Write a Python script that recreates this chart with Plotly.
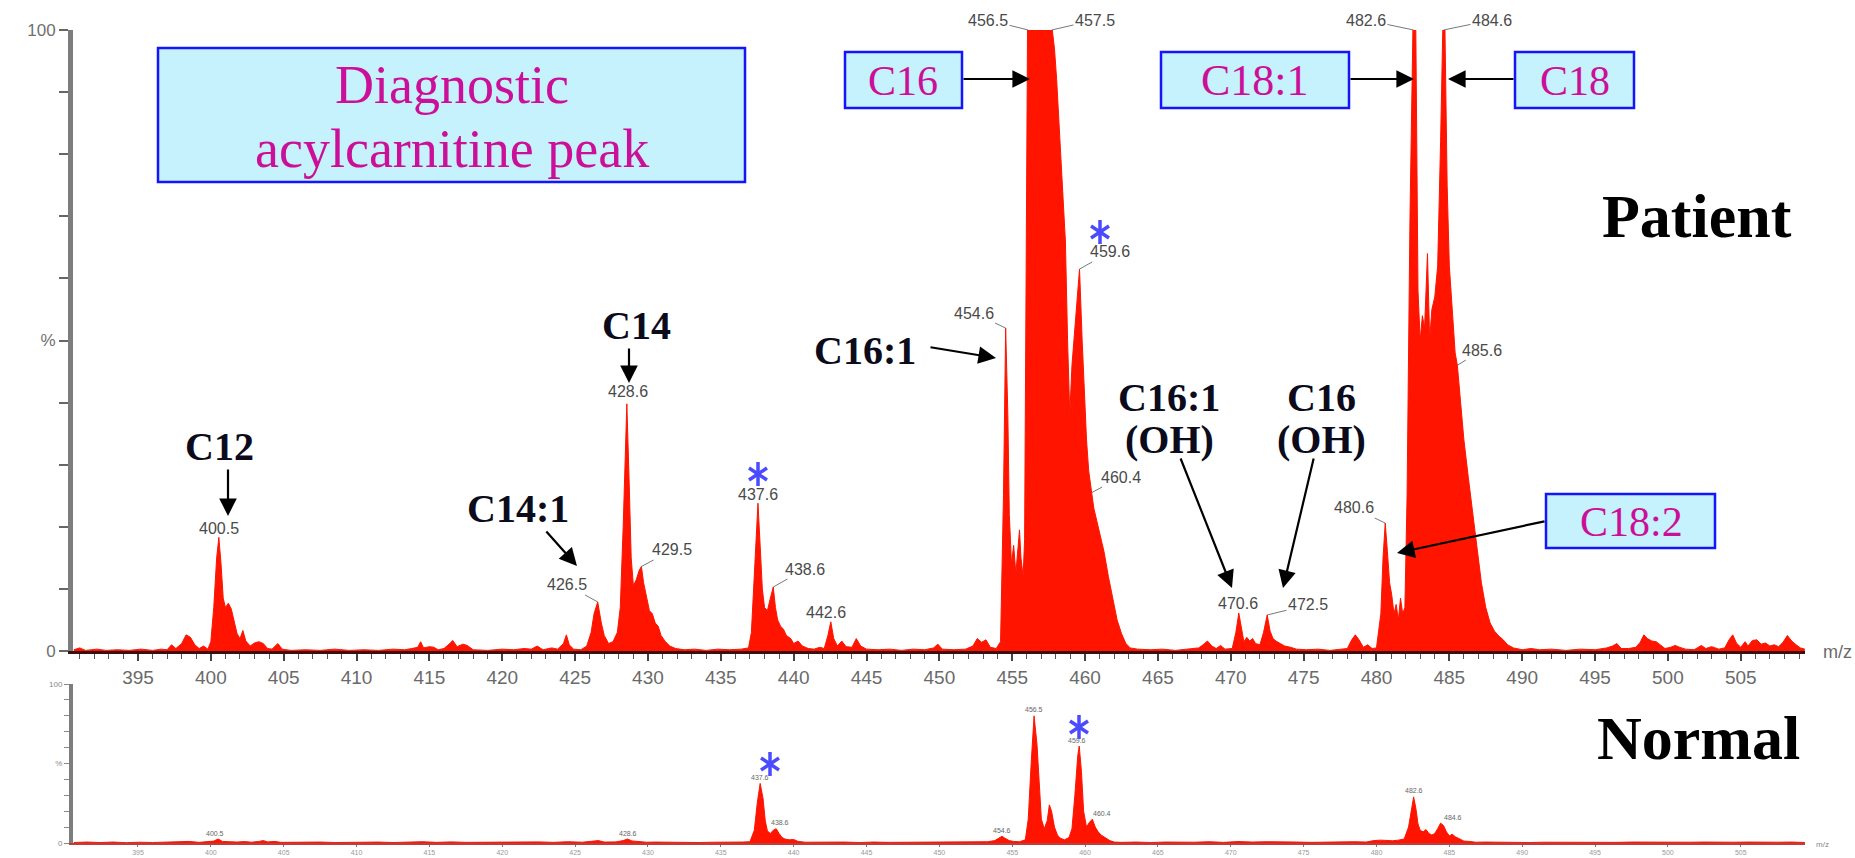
import plotly.graph_objects as go

W, H = 1855, 858

# ---------------- data: Patient spectrum (m/z, relative intensity %) ----------------
TOP_MZ = [390.6, 391.0, 391.4, 392.2, 392.8, 393.6, 394.4, 395.2, 396.0, 396.6, 397.0, 397.3, 397.6, 398.0,
          398.3, 398.6, 398.9, 399.2, 399.5, 399.8, 400.0, 400.2, 400.4, 400.55, 400.7, 400.85, 401.0, 401.2,
          401.4, 401.6, 401.8, 402.0, 402.2, 402.4, 402.7, 403.0, 403.3, 403.6, 403.9, 404.2, 404.6, 404.9,
          405.5, 406.5, 407.5, 408.5, 409.5, 410.5, 411.5, 412.5, 413.3, 413.8, 414.2, 414.4, 414.6, 415.0,
          415.3, 415.6, 416.0, 416.4, 416.6, 416.9, 417.3, 417.6, 418.0, 419.0, 420.0, 420.8, 421.5, 422.0,
          422.4, 422.8, 423.4, 423.8, 424.2, 424.4, 424.6, 424.9, 425.4, 425.8, 426.1, 426.3, 426.55, 426.8,
          427.0, 427.3, 427.6, 427.9, 428.1, 428.3, 428.55, 428.7, 428.85, 429.0, 429.2, 429.4, 429.55, 429.7,
          429.9, 430.1, 430.3, 430.5, 430.7, 430.9, 431.2, 431.5, 431.9, 432.5, 433.2, 434.0, 434.8, 435.6,
          436.4, 436.9, 437.1, 437.3, 437.55, 437.7, 437.85, 438.0, 438.2, 438.4, 438.6, 438.75, 438.9, 439.1,
          439.3, 439.5, 439.8, 440.0, 440.3, 440.6, 441.0, 441.4, 441.8, 442.1, 442.35, 442.55, 442.75, 443.0,
          443.3, 443.6, 444.0, 444.3, 444.6, 445.0, 445.8, 446.6, 447.4, 448.2, 449.0, 449.6, 449.9, 450.2,
          451.0, 451.8, 452.3, 452.6, 452.9, 453.2, 453.5, 453.9, 454.2, 454.4, 454.55, 454.7, 454.8, 454.95,
          455.1, 455.25, 455.4, 455.5, 455.6, 455.75, 455.85, 455.95, 456.05, 457.75, 457.9, 458.05, 458.2,
          458.35, 458.5, 458.65, 458.8, 458.95, 459.1, 459.3, 459.45, 459.62, 459.8, 459.95, 460.1, 460.25,
          460.45, 460.6, 460.8, 461.0, 461.3, 461.6, 461.9, 462.2, 462.5, 462.8, 463.1, 463.6, 464.5, 465.3,
          466.2, 467.0, 467.8, 468.1, 468.4, 468.7, 469.0, 469.3, 469.6, 470.1, 470.35, 470.55, 470.75, 470.9,
          471.1, 471.3, 471.5, 471.7, 472.0, 472.25, 472.5, 472.7, 472.9, 473.1, 473.4, 473.7, 474.1, 474.5,
          475.2, 476.0, 476.8, 477.5, 478.0, 478.3, 478.55, 478.8, 479.1, 479.4, 479.7, 480.0, 480.3, 480.45,
          480.6, 480.75, 480.9, 481.05, 481.2, 481.35, 481.5, 481.65, 481.8, 481.95, 482.1, 482.3, 482.5,
          482.7, 482.85, 483.0, 483.15, 483.3, 483.5, 483.65, 483.8, 484.0, 484.2, 484.4, 484.55, 484.7,
          484.85, 485.0, 485.2, 485.4, 485.55, 485.75, 486.0, 486.3, 486.6, 486.9, 487.2, 487.5, 487.8,
          488.1, 488.4, 488.7, 489.0, 489.4, 490.0, 490.6, 491.2, 492.0, 493.0, 494.0, 495.0, 495.8, 496.2,
          496.5, 496.8, 497.3, 497.8, 498.1, 498.35, 498.6, 498.9, 499.2, 499.5, 499.8, 500.2, 500.5, 500.8,
          501.2, 501.8, 502.3, 502.6, 503.0, 503.5, 503.9, 504.2, 504.45, 504.7, 505.0, 505.3, 505.5, 505.8,
          506.1, 506.4, 506.7, 507.0, 507.3, 507.6, 507.9, 508.2, 508.5, 508.8, 509.1, 509.4]
TOP_PCT = [0.2, 0.5, 0.1, 0.3, 0.1, 0.2, 0.1, 0.3, 0.1, 0.3, 0.2, 1.0, 0.4, 1.2,
           2.6, 2.2, 1.0, 0.4, 0.8, 0.3, 1.5, 7.0, 15.0, 18.3, 14.0, 8.5, 7.0, 7.7,
           6.8, 5.0, 2.8, 2.0, 3.3, 1.6, 0.8, 1.3, 1.5, 1.2, 0.4, 0.3, 1.2, 0.3,
           0.1, 0.2, 0.1, 0.3, 0.1, 0.2, 0.1, 0.3, 0.2, 0.4, 0.6, 1.5, 0.5, 0.7,
           0.6, 0.2, 0.4, 1.2, 1.7, 0.7, 1.1, 0.9, 0.2, 0.1, 0.3, 0.2, 0.4, 0.3,
           0.8, 0.2, 0.5, 0.3, 1.2, 2.6, 1.0, 0.3, 0.2, 0.8, 3.0, 6.0, 7.9, 4.5,
           2.5, 1.2, 1.5, 3.0, 7.0, 20.0, 39.8, 28.0, 15.0, 10.5, 11.5, 13.0, 13.6, 11.0,
           8.5, 6.5, 6.0, 4.5, 4.0, 2.5, 1.5, 0.8, 0.4, 0.2, 0.3, 0.1, 0.3, 0.2,
           0.3, 0.5, 3.0, 12.0, 23.8, 17.0, 10.0, 7.0, 6.5, 8.5, 10.3, 7.0, 5.0, 4.0,
           3.5, 2.5, 2.0, 1.2, 1.6, 0.8, 0.4, 0.3, 0.6, 0.4, 2.5, 4.7, 2.0, 0.8,
           1.6, 0.7, 0.6, 2.0, 0.8, 0.3, 0.2, 0.3, 0.1, 0.3, 0.2, 0.5, 1.1, 0.3,
           0.2, 0.3, 0.8, 2.0, 1.4, 1.8, 0.6, 0.4, 1.5, 25.0, 52.0, 38.0, 22.0, 14.0,
           17.0, 12.5, 16.0, 19.5, 15.0, 12.0, 18.0, 71.0, 100, 100, 97, 92, 86,
           80, 73, 66, 50, 38, 46, 52, 56, 61.5, 50, 41, 34, 29,
           25.5, 23, 21, 19, 16, 12, 8.5, 5.0, 2.8, 1.2, 0.5, 0.3, 0.2, 0.3,
           0.1, 0.3, 0.5, 1.0, 1.6, 0.8, 0.4, 0.9, 0.3, 0.4, 3.0, 6.1, 3.2, 1.5,
           2.2, 1.6, 2.0, 1.2, 1.0, 3.0, 5.8, 3.2, 2.0, 1.6, 1.2, 0.8, 0.6, 0.3,
           0.2, 0.3, 0.1, 0.3, 0.4, 1.8, 2.6, 1.8, 0.6, 1.0, 0.4, 0.5, 6.0, 15.0,
           20.6, 16.0, 11.0, 9.0, 6.0, 7.5, 5.0, 8.5, 6.0, 7.0, 25.0, 70.0, 100,
           100, 58, 50, 54, 52, 64, 50, 55, 57, 62, 82, 100, 100,
           75, 62, 54, 48, 46, 40, 34, 28, 22, 16, 11, 7, 4.5,
           3.2, 2.4, 1.8, 1.0, 0.5, 0.2, 0.4, 0.2, 0.3, 0.1, 0.3, 0.2, 0.5, 0.8,
           1.2, 0.4, 0.4, 0.6, 1.4, 2.6, 2.0, 1.6, 1.5, 0.9, 0.4, 0.6, 0.9, 0.6,
           0.3, 0.2, 0.9, 0.4, 0.7, 0.3, 0.5, 1.8, 2.6, 1.3, 0.6, 1.5, 0.8, 1.7,
           1.8, 1.1, 1.3, 0.8, 1.0, 0.7, 1.4, 2.5, 1.6, 1.0, 0.5, 0.3]

# ---------------- data: Normal spectrum ----------------
NORM_MZ = [390.6, 391.5, 392.4, 393.3, 394.2, 395.1, 396.0, 397.0, 397.8, 398.5, 399.2, 399.8, 400.2, 400.5,
           400.8, 401.3, 401.8, 402.3, 402.8, 403.3, 403.6, 403.9, 404.4, 404.8, 405.5, 406.5, 407.5, 408.5,
           409.5, 410.5, 411.5, 412.5, 413.5, 414.5, 415.5, 416.5, 417.5, 418.5, 419.5, 420.5, 421.5, 422.5,
           423.5, 424.5, 425.5, 426.3, 426.6, 427.0, 427.8, 428.3, 428.6, 428.9, 429.4, 429.9, 430.5, 431.5,
           432.5, 433.5, 434.5, 435.5, 436.5, 437.0, 437.3, 437.5, 437.7, 437.9, 438.05, 438.2, 438.4, 438.6,
           438.8, 439.0, 439.2, 439.4, 439.7, 440.0, 440.3, 440.8, 441.5, 442.5, 443.5, 444.5, 445.5, 446.5,
           447.5, 448.5, 449.5, 450.5, 451.5, 452.5, 453.3, 453.8, 454.1, 454.3, 454.5, 454.8, 455.1, 455.5,
           455.9, 456.1, 456.3, 456.5, 456.7, 456.85, 457.0, 457.2, 457.4, 457.55, 457.7, 457.9, 458.1, 458.3,
           458.6, 458.9, 459.1, 459.3, 459.5, 459.6, 459.75, 459.9, 460.1, 460.3, 460.5, 460.7, 460.9, 461.1,
           461.4, 461.7, 462.0, 462.5, 463.5, 464.5, 465.5, 466.5, 467.5, 468.5, 469.5, 470.5, 471.5, 472.5,
           473.5, 474.5, 475.5, 476.5, 477.5, 478.5, 479.3, 479.8, 480.3, 480.7, 481.1, 481.5, 481.9, 482.2,
           482.4, 482.55, 482.7, 482.85, 483.0, 483.2, 483.4, 483.6, 483.8, 484.0, 484.2, 484.4, 484.6, 484.8,
           485.0, 485.2, 485.4, 485.7, 486.0, 486.4, 486.8, 487.5, 488.5, 489.5, 490.5, 491.5, 492.5, 493.5,
           494.5, 495.5, 496.5, 497.5, 498.5, 499.5, 500.5, 501.5, 502.5, 503.5, 504.5, 505.5, 506.5, 507.5,
           508.5, 509.4]
NORM_PCT = [0.3, 0.6, 0.3, 0.6, 0.2, 0.5, 0.3, 0.6, 0.4, 1.0, 0.4, 0.8, 1.2, 2.5,
            1.0, 0.8, 0.6, 0.9, 0.5, 1.0, 1.5, 0.7, 1.0, 0.4, 0.5, 0.3, 0.6, 0.3,
            0.5, 0.4, 0.6, 0.3, 0.5, 0.8, 0.4, 0.7, 0.4, 0.5, 0.3, 0.6, 0.4, 0.7,
            0.4, 0.8, 0.5, 1.0, 1.5, 0.6, 0.7, 1.5, 2.5, 1.3, 0.9, 0.5, 0.6, 0.4,
            0.6, 0.3, 0.5, 0.4, 0.6, 0.8, 8.0, 25.0, 37.5, 28.0, 14.0, 7.5, 6.0, 8.0,
            9.0, 6.0, 3.5, 2.5, 2.0, 2.2, 1.0, 0.5, 0.6, 0.4, 0.6, 0.3, 0.6, 0.4,
            0.5, 0.3, 0.6, 0.4, 0.6, 0.5, 0.8, 1.5, 3.0, 4.2, 3.0, 1.5, 1.0, 0.8,
            2.0, 15.0, 50.0, 80.0, 62.0, 35.0, 15.0, 9.0, 14.0, 24.0, 20.0, 10.0, 5.0, 3.0,
            2.0, 3.5, 9.0, 30.0, 55.0, 61.0, 45.0, 20.0, 10.0, 13.0, 15.0, 10.0, 7.0, 5.0,
            3.0, 1.5, 0.6, 0.4, 0.6, 0.3, 0.6, 0.4, 0.5, 0.8, 0.4, 0.9, 0.6, 0.8,
            0.5, 0.6, 0.4, 0.6, 0.5, 0.8, 0.6, 1.5, 1.8, 1.5, 1.4, 1.8, 2.5, 10.0,
            22.0, 29.0, 22.0, 12.0, 8.0, 7.0, 8.5, 6.0, 5.0, 6.0, 9.0, 12.5, 11.0, 7.0,
            4.5, 5.5, 4.0, 2.5, 1.2, 1.0, 0.5, 0.6, 0.4, 0.6, 0.3, 0.5, 0.4, 0.6,
            0.3, 0.5, 0.4, 0.6, 0.5, 0.6, 0.4, 0.5, 0.6, 0.4, 0.5, 0.6, 0.4, 0.5,
            0.6, 0.3]

X_TICKS = list(range(395, 506, 5))
X_TICK_LABELS = [str(v) for v in X_TICKS]
Y_TICKS = list(range(0, 101, 10))
Y_TICK_LABELS = ["0", "", "", "", "", "%", "", "", "", "", "100"]

# peak labels: text, m/z, intensity
TOP_LABEL_TEXT = ["400.5", "426.5", "428.6", "429.5", "437.6", "438.6", "442.6", "454.6", "456.5",
                  "457.5", "459.6", "460.4", "470.6", "472.5", "480.6", "482.6", "484.6", "485.6"]
TOP_LABEL_MZ = [400.55, 426.55, 428.55, 429.55, 437.55, 438.6, 442.55, 454.55, 456.1,
                457.7, 459.62, 460.45, 470.55, 472.5, 480.6, 482.55, 484.6, 485.55]
TOP_LABEL_PCT = [18.3, 7.9, 39.8, 13.6, 23.8, 10.3, 4.7, 52.0, 100,
                 100, 61.5, 25.5, 6.1, 5.8, 20.6, 100, 100, 46]
NORM_LABEL_TEXT = ["400.5", "428.6", "437.6", "438.6", "454.6", "456.5", "459.6", "460.4", "482.6", "484.6"]
NORM_LABEL_MZ = [400.5, 428.6, 437.7, 438.8, 454.3, 456.5, 459.6, 460.5, 482.55, 484.4]
NORM_LABEL_PCT = [2.5, 2.5, 37.5, 9.0, 4.2, 80.0, 61.0, 15.0, 29.0, 12.5]

# ---------------- geometry (pixels) ----------------
X0_PX, X1_PX = 73, 1805
XR = [390.54, 509.41]
TOP_Y0, TOP_Y1 = 651, 30
BOT_Y0, BOT_Y1 = 843, 684


def px(x):
    return x / W


def py(y):
    return 1 - y / H


def xpx(mz):
    return X0_PX + (mz - XR[0]) / (XR[1] - XR[0]) * (X1_PX - X0_PX)


def mz_at(x):
    return XR[0] + (x - X0_PX) / (X1_PX - X0_PX) * (XR[1] - XR[0])


def ytop(p):
    return TOP_Y0 - p / 100 * (TOP_Y0 - TOP_Y1)


def ybot(p):
    return BOT_Y0 - p / 100 * (BOT_Y0 - BOT_Y1)


def pct_top(y):
    return (TOP_Y0 - y) / (TOP_Y0 - TOP_Y1) * 100


def pct_bot(y):
    return (BOT_Y0 - y) / (BOT_Y0 - BOT_Y1) * 100


RED = "#ff1400"
SERIF = "Liberation Serif"
SANS = "Liberation Sans"
MAGENTA = "#cc0f99"
BOX_FILL = "#c5f2fd"
BOX_LINE = "#1414ff"

fig = go.Figure()
fig.add_trace(go.Scatter(x=TOP_MZ, y=TOP_PCT, mode="lines", fill="tozeroy", fillcolor=RED,
                         line=dict(color=RED, width=1), xaxis="x", yaxis="y", hoverinfo="skip",
                         showlegend=False))
fig.add_trace(go.Scatter(x=NORM_MZ, y=NORM_PCT, mode="lines", fill="tozeroy", fillcolor=RED,
                         line=dict(color=RED, width=1), xaxis="x2", yaxis="y2", hoverinfo="skip",
                         showlegend=False))

# blue asterisks (six arms = y-up + y-down)
ast_top = [(758, 474), (1100, 232)]
ast_bot = [(770, 764), (1079, 727)]
for sym in ["y-up-open", "y-down-open"]:
    fig.add_trace(go.Scatter(x=[mz_at(a[0]) for a in ast_top], y=[pct_top(a[1]) for a in ast_top],
                             mode="markers", xaxis="x", yaxis="y", hoverinfo="skip", showlegend=False,
                             cliponaxis=False,
                             marker=dict(symbol=sym, size=15, color="#4a4aff",
                                         line=dict(color="#4a4aff", width=3.5))))
    fig.add_trace(go.Scatter(x=[mz_at(a[0]) for a in ast_bot], y=[pct_bot(a[1]) for a in ast_bot],
                             mode="markers", xaxis="x2", yaxis="y2", hoverinfo="skip", showlegend=False,
                             cliponaxis=False,
                             marker=dict(symbol=sym, size=15, color="#4a4aff",
                                         line=dict(color="#4a4aff", width=3.5))))

ann = []
shapes = []


def text(x, y, s, size, color, family, xanchor="center", yanchor="middle"):
    ann.append(dict(x=px(x), y=py(y), xref="paper", yref="paper", text=s, showarrow=False,
                    xanchor=xanchor, yanchor=yanchor, font=dict(size=size, color=color, family=family)))


def arrow(tx, ty, hx, hy):
    ann.append(dict(x=px(hx), y=py(hy), xref="paper", yref="paper", text="", showarrow=True,
                    ax=tx - hx, ay=ty - hy, axref="pixel", ayref="pixel", arrowhead=2, arrowsize=1.6,
                    arrowwidth=2.2, arrowcolor="#000000", standoff=0))


def box(x0, y0, x1, y1):
    shapes.append(dict(type="rect", xref="paper", yref="paper", x0=px(x0), x1=px(x1), y0=py(y1), y1=py(y0),
                       fillcolor=BOX_FILL, line=dict(color=BOX_LINE, width=2.5), layer="above"))


# Top peak labels (text position in px, leader line flag)
TOP_LABEL_POS = [(219, 528, 0), (567, 585, 1), (628, 392, 0), (672, 550, 1), (758, 495, 0), (805, 569, 1),
                 (826, 613, 0), (974, 313, 1), (988, 20, 1), (1095, 20, 1), (1110, 252, 1), (1121, 477, 1),
                 (1238, 603, 0), (1308, 605, 1), (1354, 508, 1), (1366, 20, 1), (1492, 20, 1), (1482, 350, 1)]
for s, mz, p, (tx, ty, lead) in zip(TOP_LABEL_TEXT, TOP_LABEL_MZ, TOP_LABEL_PCT, TOP_LABEL_POS):
    ann.append(dict(x=mz, y=p, xref="x", yref="y", text=s, showarrow=True, axref="pixel", ayref="pixel",
                    ax=tx - xpx(mz), ay=ty - ytop(p), arrowhead=0, arrowwidth=0.8, standoff=0,
                    arrowcolor="#555555" if lead else "rgba(0,0,0,0)",
                    font=dict(size=16, color="#4a4a4a", family=SANS)))

# Normal-panel peak labels, placed just above each peak
NORM_LABEL_DX = [-3, 0, 0, 4, 0, 0, -2, 10, 0, 12]
for s, mz, p, dx in zip(NORM_LABEL_TEXT, NORM_LABEL_MZ, NORM_LABEL_PCT, NORM_LABEL_DX):
    text(xpx(mz) + dx, ybot(p) - 6, s, 7, "#666666", SANS)

# boxes with magenta labels
box(158, 48, 745, 182)
box(845, 52, 962, 108)
box(1161, 52, 1349, 108)
box(1515, 52, 1634, 108)
box(1546, 494, 1715, 548)
text(452, 85, "Diagnostic", 54, MAGENTA, SERIF)
text(452, 149, "acylcarnitine peak", 54, MAGENTA, SERIF)
text(903, 81, "C16", 42, MAGENTA, SERIF)
text(1255, 81, "C18:1", 44, MAGENTA, SERIF)
text(1575, 81, "C18", 42, MAGENTA, SERIF)
text(1631, 522, "C18:2", 42, MAGENTA, SERIF)

# black labels
BLK = "#0b0b1c"
text(219, 447, "<b>C12</b>", 40, BLK, SERIF)
text(636, 325, "<b>C14</b>", 40, BLK, SERIF)
text(518, 508, "<b>C14:1</b>", 40, BLK, SERIF)
text(865, 350, "<b>C16:1</b>", 40, BLK, SERIF)
text(1169, 398, "<b>C16:1</b>", 40, BLK, SERIF)
text(1169, 440, "<b>(OH)</b>", 40, BLK, SERIF)
text(1321, 398, "<b>C16</b>", 40, BLK, SERIF)
text(1321, 440, "<b>(OH)</b>", 40, BLK, SERIF)
text(1697, 216, "<b>Patient</b>", 62, "#000000", SERIF)
text(1698, 738, "<b>Normal</b>", 62, "#000000", SERIF)

# arrows
arrow(228, 468, 228, 516)
arrow(629, 347, 629, 383)
arrow(545, 530, 577, 566)
arrow(929, 347, 996, 358)
arrow(1180, 457, 1232, 588)
arrow(1314, 457, 1283, 588)
arrow(962, 79, 1030, 79)
arrow(1349, 79, 1414, 79)
arrow(1515, 79, 1448, 79)
arrow(1546, 521, 1397, 553)

# m/z axis titles
text(1837, 652, "m/z", 18, "#6a6a6a", SANS)
text(1822, 844, "m/z", 8, "#888888", SANS)

fig.update_layout(
    width=W, height=H, margin=dict(l=0, r=0, t=0, b=0, autoexpand=False),
    paper_bgcolor="white", plot_bgcolor="rgba(0,0,0,0)", showlegend=False,
    annotations=ann, shapes=shapes,
    xaxis=dict(domain=[px(X0_PX), px(X1_PX)], range=XR, anchor="y", showgrid=False, zeroline=False,
               automargin=False,
               showline=True, linecolor="#3c0e0e", linewidth=3, ticks="outside", ticklen=7, tickwidth=1.5,
               tickcolor="#444444", tickmode="array", tickvals=X_TICKS, ticktext=X_TICK_LABELS,
               tickfont=dict(size=19, color="#6a6a6a", family=SANS),
               minor=dict(tickmode="linear", tick0=0, dtick=1, ticks="outside", ticklen=5,
                          tickcolor="#555555", tickwidth=1.2),
               fixedrange=True),
    yaxis=dict(domain=[py(TOP_Y0), py(TOP_Y1)], range=[0, 100], anchor="x", showgrid=False, zeroline=False,
               automargin=False,
               showline=True, linecolor="#7d7d7d", linewidth=5, ticks="outside", ticklen=9, tickwidth=1.5,
               tickcolor="#666666", tickmode="array", tickvals=Y_TICKS, ticktext=Y_TICK_LABELS,
               tickfont=dict(size=17, color="#707070", family=SANS), fixedrange=True),
    xaxis2=dict(domain=[px(X0_PX), px(X1_PX)], range=XR, anchor="y2", showgrid=False, zeroline=False,
                automargin=False,
                showline=True, linecolor="#b84040", linewidth=1.5, ticks="outside", ticklen=2, tickwidth=1,
                tickcolor="#777777", tickmode="array", tickvals=X_TICKS, ticktext=X_TICK_LABELS,
                tickfont=dict(size=7, color="#999999", family=SANS), fixedrange=True),
    yaxis2=dict(domain=[py(BOT_Y0), py(BOT_Y1)], range=[0, 100], anchor="x2", showgrid=False, zeroline=False,
                automargin=False,
                showline=True, linecolor="#7d7d7d", linewidth=4, ticks="outside", ticklen=5, tickwidth=1,
                tickcolor="#888888", tickmode="array", tickvals=Y_TICKS, ticktext=Y_TICK_LABELS,
                tickfont=dict(size=8, color="#888888", family=SANS), fixedrange=True),
)

fig.write_html("out.html")
